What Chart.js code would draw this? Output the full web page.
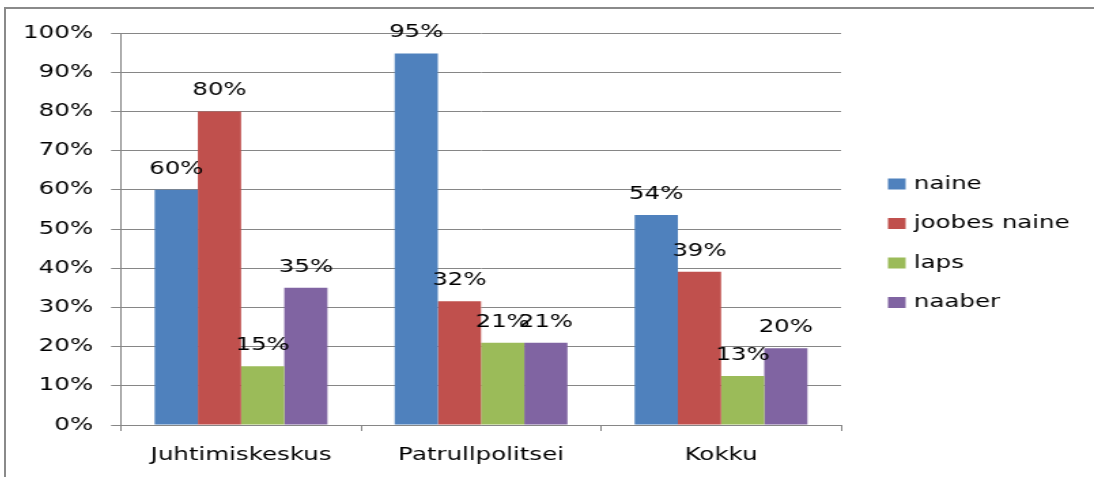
<!DOCTYPE html>
<html>
<head>
<meta charset="utf-8">
<script src="https://cdn.jsdelivr.net/npm/chart.js@4"></script>
<style>
    body { margin: 0; background: #fff; width: 1094px; height: 477px; overflow: hidden; position: relative; }
    #frame { position: absolute; left: 4px; top: 7px; width: 1090px; height: 470px;
             border-left: 2px solid #8a8a8a; border-top: 2px solid #8a8a8a; }
    /* the original picture is stretched sideways, so the chart is drawn narrow and widened */
    #wrap { position: absolute; left: 0; top: 0; width: 800px; height: 468px;
            transform: scaleX(1.36); transform-origin: 0 0; }
</style>
</head>
<body>
<div id="frame">
    <div id="wrap"><canvas id="chart"></canvas></div>
</div>
<script>
'use strict'

// data
const categories = ["Juhtimiskeskus", "Patrullpolitsei", "Kokku"];
const seriesNames = ["naine", "joobes naine", "laps", "naaber"];
const naine = [60, 94.8, 53.6];
const joobesNaine = [80, 31.6, 39.1];
const laps = [15, 21, 12.5];
const naaber = [35, 21, 19.6];
const seriesColors = ["#4f81bd", "#c0504d", "#9bbb59", "#8064a2"];
const yTicks = [0, 10, 20, 30, 40, 50, 60, 70, 80, 90, 100];

const seriesValues = [naine, joobesNaine, laps, naaber];

Chart.defaults.font.family = "'DejaVu Sans', sans-serif";
Chart.defaults.font.size = 18;
Chart.defaults.color = "#000";

// value labels above each bar
const barLabels = {
    id: "barLabels",
    afterDatasetsDraw(chart) {
        const ctx = chart.ctx;
        ctx.save();
        ctx.font = "18px 'DejaVu Sans', sans-serif";
        ctx.fillStyle = "#000";
        ctx.textAlign = "center";
        ctx.textBaseline = "alphabetic";
        chart.data.datasets.forEach((ds, i) => {
            chart.getDatasetMeta(i).data.forEach((bar, j) => {
                ctx.fillText(Math.round(ds.data[j]) + "%", bar.x, bar.y - 16);
            });
        });
        ctx.restore();
    }
};

// legend on the right, placed off the plot area
const sideLegend = {
    id: "sideLegend",
    afterDraw(chart) {
        const ctx = chart.ctx;
        const area = chart.chartArea;
        const boxX = area.right + 34.5;
        ctx.save();
        ctx.font = "18px 'DejaVu Sans', sans-serif";
        ctx.textAlign = "left";
        ctx.textBaseline = "middle";
        chart.data.datasets.forEach((ds, i) => {
            const y = area.top + 151 + i * 39.5;
            ctx.fillStyle = ds.backgroundColor;
            ctx.fillRect(boxX, y - 5.5, 13, 11);
            ctx.fillStyle = "#000";
            ctx.fillText(ds.label, boxX + 19, y);
        });
        ctx.restore();
    }
};

const datasets = seriesNames.map((name, i) => ({
    label: name,
    data: seriesValues[i],
    backgroundColor: seriesColors[i],
    borderWidth: 0,
    categoryPercentage: 0.72,
    barPercentage: 1
}));

new Chart(document.getElementById("chart"), {
    type: "bar",
    data: { labels: categories, datasets: datasets },
    options: {
        responsive: true,
        maintainAspectRatio: false,
        animation: false,
        layout: { padding: { top: 0, left: 0, bottom: 0, right: 186 } },
        plugins: {
            tooltip: { enabled: false },
            legend: { display: false }
        },
        scales: {
            x: {
                grid: { display: true, drawOnChartArea: false, drawTicks: true, tickLength: 6, color: "#868686" },
                border: { color: "#868686" },
                ticks: { padding: 14, color: "#000", font: { size: 18 } },
                afterFit: (s) => { s.height = 52; }
            },
            y: {
                min: 0,
                max: 100,
                afterBuildTicks: (s) => { s.ticks = yTicks.map(v => ({ value: v })); },
                grid: { color: "#868686", tickLength: 7.35 },
                border: { color: "#868686" },
                ticks: { padding: 13.25, color: "#000", font: { size: 18 }, callback: (v) => v + "%" },
                afterFit: (s) => { s.width = 84.6; s.paddingTop = 24; }
            }
        }
    },
    plugins: [barLabels, sideLegend]
});
</script>
</body>
</html>
